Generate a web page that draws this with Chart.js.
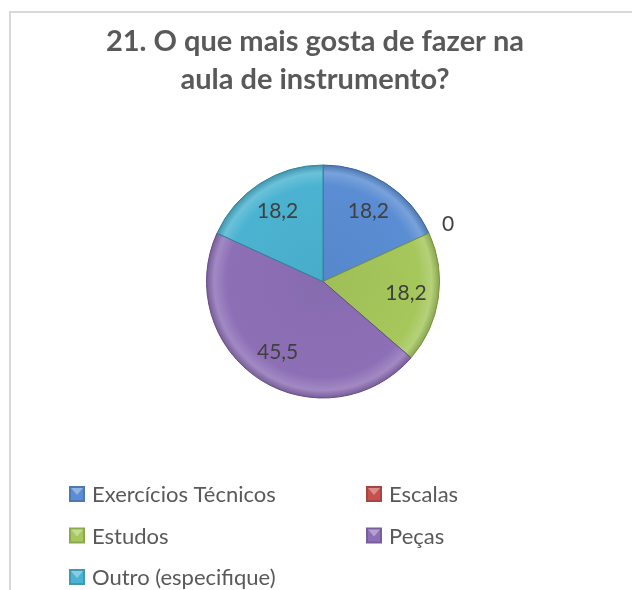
<!DOCTYPE html>
<html>
<head>
<meta charset="utf-8">
<script src="https://cdn.jsdelivr.net/npm/chart.js@4.4.1/dist/chart.umd.min.js"></script>
<style>
html, body { margin: 0; padding: 0; background: #fff; overflow: hidden; }
#frame { position: absolute; left: 9px; top: 11px; width: 800px; height: 800px; border: 2px solid #d9d9d9; box-sizing: border-box; }
#pieChart { position: absolute; left: 0; top: 0; }
</style>
</head>
<body>
<div id="frame"></div>
<canvas id="pieChart" width="632" height="590"></canvas>
<script>
// data
const titleLines = ["21. O que mais gosta de fazer na", "aula de instrumento?"];
const categories = ["Exercícios Técnicos", "Escalas", "Estudos", "Peças", "Outro (especifique)"];
const percentages = [18.2, 0, 18.2, 45.5, 18.2];

const sliceColors = ["#5a8dd3", "#c6504d", "#a5c75b", "#8d6fb6", "#4bb3d1"];
const edgeColors = ["#3b679e", "#8c3532", "#77923d", "#634d86", "#2f869e"];
const textColor = "#595959";

function shade(hex, amt) {
  let n = parseInt(hex.slice(1), 16);
  let r = (n >> 16) & 255, g = (n >> 8) & 255, b = n & 255;
  const f = v => Math.max(0, Math.min(255, Math.round(amt > 0 ? v + (255 - v) * amt : v * (1 + amt))));
  return "rgb(" + f(r) + "," + f(g) + "," + f(b) + ")";
}

// bevel-ish radial shading for each slice
function sliceFill(ctx) {
  const chart = ctx.chart;
  const base = sliceColors[ctx.dataIndex];
  const area = chart.chartArea;
  if (!area) return base;
  const cx = (area.left + area.right) / 2;
  const cy = (area.top + area.bottom) / 2;
  const r = Math.min(area.right - area.left, area.bottom - area.top) / 2;
  const g = chart.ctx.createRadialGradient(cx, cy, 0, cx, cy, r);
  g.addColorStop(0, shade(base, -0.04));
  g.addColorStop(0.82, base);
  g.addColorStop(0.93, shade(base, 0.18));
  g.addColorStop(1, shade(base, -0.18));
  return g;
}

// title drawn across the whole canvas (the built-in one gets squeezed by the padding)
const wideTitle = {
  id: "wideTitle",
  afterDraw(chart) {
    const ctx = chart.ctx;
    ctx.save();
    ctx.font = "bold 29px Lato";
    ctx.fillStyle = textColor;
    ctx.textAlign = "center";
    ctx.textBaseline = "alphabetic";
    titleLines.forEach((line, i) => {
      ctx.fillText(line, 315, 51 + i * 38);
    });
    ctx.restore();
  }
};

const valueLabels = {
  id: "valueLabels",
  afterDatasetsDraw(chart) {
    const ctx = chart.ctx;
    const meta = chart.getDatasetMeta(0);
    const data = chart.data.datasets[0].data;
    ctx.save();
    ctx.font = "21px Lato";
    ctx.fillStyle = "#404040";
    ctx.textAlign = "center";
    ctx.textBaseline = "middle";
    meta.data.forEach((arc, i) => {
      const p = arc.getProps(["x", "y", "startAngle", "endAngle", "outerRadius"], true);
      const mid = (p.startAngle + p.endAngle) / 2;
      const dist = data[i] === 0 ? p.outerRadius * 1.18 : p.outerRadius * 0.72;
      const tx = p.x + Math.cos(mid) * dist;
      const ty = p.y + Math.sin(mid) * dist;
      ctx.fillText(String(data[i]).replace(".", ","), tx, ty);
    });
    ctx.restore();
  }
};

// two-column legend under the pie, like the original
const gridLegend = {
  id: "gridLegend",
  afterDraw(chart) {
    const ctx = chart.ctx;
    const labels = chart.data.labels;
    const colX = [69, 366];
    const rowY = [494, 535.5, 577];
    const box = 16;
    ctx.save();
    ctx.font = "22px Lato";
    ctx.textBaseline = "middle";
    ctx.textAlign = "left";
    labels.forEach((lab, i) => {
      const x = colX[i % 2];
      const y = rowY[Math.floor(i / 2)];
      const c = sliceColors[i];
      const top = y - box / 2;
      ctx.fillStyle = shade(c, -0.15);
      ctx.fillRect(x, top, box, box);
      ctx.fillStyle = c;
      ctx.fillRect(x + 2, top + 2, box - 4, box - 4);
      ctx.fillStyle = shade(c, 0.35);
      ctx.beginPath();
      ctx.moveTo(x + 2, top + 2);
      ctx.lineTo(x + box - 2, top + 2);
      ctx.lineTo(x + box / 2, top + box / 2 + 1);
      ctx.closePath();
      ctx.fill();
      ctx.fillStyle = textColor;
      ctx.fillText(lab, x + box + 7, y + 1);
    });
    ctx.restore();
  }
};

new Chart(document.getElementById("pieChart"), {
  type: "pie",
  data: {
    labels: categories,
    datasets: [{
      data: percentages,
      backgroundColor: sliceFill,
      borderColor: edgeColors,
      borderWidth: 1
    }]
  },
  options: {
    responsive: false,
    animation: false,
    layout: { padding: { left: 206, right: 192, top: 164, bottom: 191 } },
    plugins: {
      legend: { display: false },
      tooltip: { enabled: false },
      title: { display: false }
    }
  },
  plugins: [valueLabels, gridLegend, wideTitle]
});
</script>
</body>
</html>
